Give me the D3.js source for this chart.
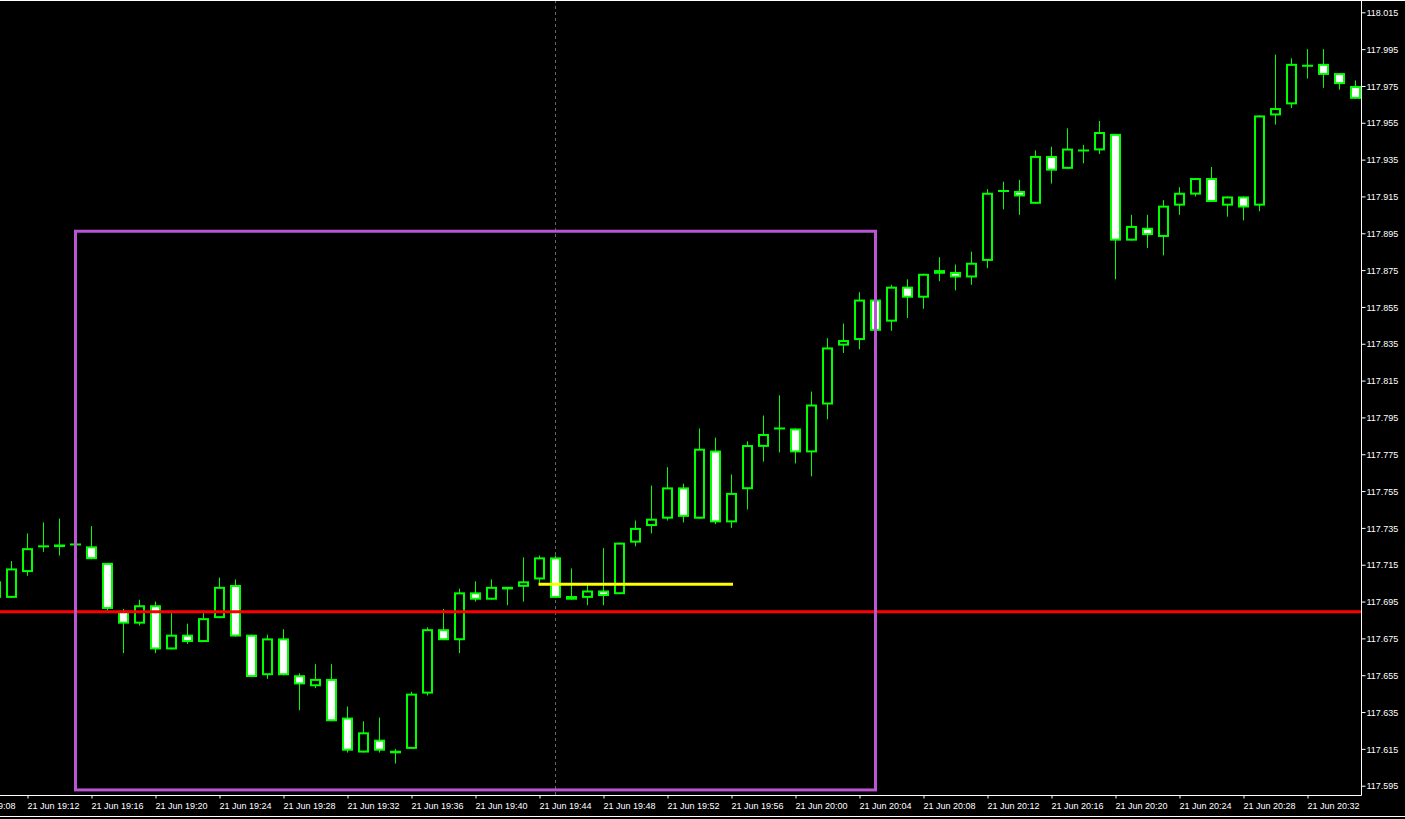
<!DOCTYPE html>
<html>
<head>
<meta charset="utf-8">
<script src="https://cdn.jsdelivr.net/npm/d3@7"></script>
<style>
html,body{margin:0;padding:0;background:#000;}
svg{display:block;}
</style>
</head>
<body>
<svg id="chart" width="1405" height="819"></svg>
<script>
// ---- DATA ----
const times = ["19:10","19:11","19:12","19:13","19:14","19:15","19:16","19:17","19:18","19:19",
"19:20","19:21","19:22","19:23","19:24","19:25","19:26","19:27","19:28","19:29",
"19:30","19:31","19:32","19:33","19:34","19:35","19:36","19:37","19:38","19:39",
"19:40","19:41","19:42","19:43","19:44","19:45","19:46","19:47","19:48","19:49",
"19:50","19:51","19:52","19:53","19:54","19:55","19:56","19:57","19:58","19:59",
"20:00","20:01","20:02","20:03","20:04","20:05","20:06","20:07","20:08","20:09",
"20:10","20:11","20:12","20:13","20:14","20:15","20:16","20:17","20:18","20:19",
"20:20","20:21","20:22","20:23","20:24","20:25","20:26","20:27","20:28","20:29",
"20:30","20:31","20:32","20:33","20:34","20:35"];
const open = [117.697,117.697,117.711,117.725,117.725,117.726,117.725,117.716,117.690,117.683,
117.693,117.669,117.677,117.673,117.686,117.704,117.677,117.655,117.675,117.655,
117.649,117.653,117.632,117.613,117.620,117.613,117.615,117.645,117.680,117.674,
117.700,117.696,117.703,117.703,117.707,117.719,117.698,117.697,117.701,117.699,
117.727,117.736,117.740,117.757,117.740,117.777,117.738,117.756,117.779,117.789,
117.789,117.776,117.802,117.834,117.837,117.859,117.847,117.866,117.860,117.873,
117.874,117.871,117.880,117.918,117.918,117.911,117.937,117.930,117.940,117.940,
117.949,117.891,117.898,117.893,117.910,117.916,117.925,117.910,117.915,117.910,
117.959,117.965,117.986,117.987,117.982,117.975];
const high = [117.710,117.717,117.732,117.738,117.740,117.727,117.736,117.716,117.691,117.696,
117.695,117.690,117.683,117.690,117.708,117.707,117.677,117.677,117.680,117.656,
117.661,117.661,117.638,117.630,117.632,117.615,117.646,117.681,117.691,117.702,
117.706,117.707,117.703,117.719,117.720,117.720,117.713,117.704,117.724,117.727,
117.739,117.758,117.768,117.759,117.789,117.784,117.764,117.782,117.796,117.807,
117.789,117.809,117.838,117.846,117.863,117.860,117.867,117.870,117.873,117.882,
117.878,117.885,117.919,117.923,117.924,117.940,117.942,117.952,117.943,117.956,
117.949,117.905,117.905,117.913,117.920,117.925,117.931,117.915,117.915,117.959,
117.992,117.990,117.995,117.995,117.982,117.978];
const low = [117.696,117.697,117.709,117.722,117.720,117.725,117.718,117.690,117.667,117.682,
117.667,117.669,117.672,117.673,117.686,117.676,117.654,117.653,117.655,117.636,
117.648,117.630,117.613,117.613,117.613,117.607,117.615,117.644,117.674,117.667,
117.695,117.696,117.693,117.695,117.705,117.697,117.696,117.693,117.693,117.699,
117.725,117.732,117.739,117.738,117.740,117.737,117.735,117.745,117.771,117.776,
117.770,117.763,117.794,117.830,117.832,117.842,117.842,117.849,117.854,117.869,
117.864,117.867,117.876,117.908,117.905,117.911,117.922,117.930,117.933,117.938,
117.870,117.891,117.887,117.883,117.905,117.915,117.912,117.904,117.902,117.907,
117.954,117.963,117.979,117.974,117.973,117.968];
const close = [117.706,117.713,117.724,117.725,117.726,117.726,117.718,117.691,117.683,117.693,
117.669,117.677,117.673,117.686,117.703,117.676,117.654,117.675,117.655,117.650,
117.653,117.630,117.614,117.624,117.614,117.614,117.645,117.680,117.674,117.700,
117.696,117.703,117.702,117.706,117.719,117.697,117.696,117.701,117.698,117.727,
117.735,117.740,117.757,117.741,117.778,117.738,117.754,117.780,117.786,117.789,
117.776,117.802,117.833,117.837,117.859,117.842,117.866,117.860,117.873,117.875,
117.871,117.879,117.917,117.918,117.915,117.937,117.929,117.941,117.940,117.950,
117.891,117.899,117.894,117.910,117.917,117.925,117.912,117.915,117.909,117.959,
117.963,117.987,117.986,117.981,117.976,117.968];

const priceTicks = [117.595,117.615,117.635,117.655,117.675,117.695,117.715,117.735,117.755,117.775,
117.795,117.815,117.835,117.855,117.875,117.895,117.915,117.935,117.955,117.975,117.995,118.015];
const timeTicks = ["19:08","19:12","19:16","19:20","19:24","19:28","19:32","19:36","19:40","19:44",
"19:48","19:52","19:56","20:00","20:04","20:08","20:12","20:16","20:20","20:24","20:28","20:32"];

const redLevel = 117.6894;
const yellowLevel = { price: 117.7044, from: "19:44", to: "19:56" };
const rectangle = { from: "19:15", to: "20:05", top: 117.8961, bottom: 117.5927 };
const vLine = "19:45";

// ---- HELPERS ----
const toDate = s => { const [h,m] = s.split(":").map(Number); return new Date(2021,5,21,h,m); };

const W = 1405, H = 819, plotRight = 1361.5, plotBottom = 795.5;

const x = d3.scaleTime().domain([toDate("19:12"), toDate("20:32")]).range([27.5, 1307.5]);
const y = d3.scaleLinear().domain([117.595, 118.015]).range([785.7, 12.3]);

const svg = d3.select("#chart");
svg.append("rect").attr("width", W).attr("height", H).attr("fill", "#000");

svg.append("defs").append("clipPath").attr("id","plotclip")
  .append("rect").attr("x",0).attr("y",1).attr("width",plotRight).attr("height",plotBottom-1);

const plot = svg.append("g").attr("clip-path","url(#plotclip)");

// vertical dashed line
plot.append("line")
  .attr("x1", x(toDate(vLine))).attr("x2", x(toDate(vLine)))
  .attr("y1", 0).attr("y2", plotBottom)
  .attr("stroke", "#666").attr("stroke-width", 1).attr("stroke-dasharray", "3,3");

const candles = times.map((t,i) => ({ t: toDate(t), o: open[i], h: high[i], l: low[i], c: close[i] }));

const cg = plot.append("g");
// wicks
cg.selectAll("line.wick").data(candles).join("line")
  .attr("class","wick")
  .attr("x1", d => x(d.t)).attr("x2", d => x(d.t))
  .attr("y1", d => y(d.h)).attr("y2", d => y(d.l))
  .attr("stroke", "#00ff00").attr("stroke-width", 1);

// bodies
const bodies = candles.filter(d => Math.abs(y(d.o) - y(d.c)) >= 1.5);
const dojis = candles.filter(d => Math.abs(y(d.o) - y(d.c)) < 1.5);

cg.selectAll("rect.body").data(bodies).join("rect")
  .attr("class","body")
  .attr("x", d => x(d.t) - 4.5)
  .attr("width", 9)
  .attr("y", d => Math.min(y(d.o), y(d.c)) + 1)
  .attr("height", d => Math.max(Math.abs(y(d.o) - y(d.c)) - 2, 0.6))
  .attr("fill", d => d.c >= d.o ? "#000" : "#fff")
  .attr("stroke", "#00ff00").attr("stroke-width", 2);

cg.selectAll("line.doji").data(dojis).join("line")
  .attr("class","doji")
  .attr("x1", d => x(d.t) - 5.5).attr("x2", d => x(d.t) + 5.5)
  .attr("y1", d => y(d.o)).attr("y2", d => y(d.o))
  .attr("stroke", "#00ff00").attr("stroke-width", 2);

// red level line
plot.append("line")
  .attr("x1", 0).attr("x2", plotRight)
  .attr("y1", y(redLevel)).attr("y2", y(redLevel))
  .attr("stroke", "#ff0000").attr("stroke-width", 3);

// purple rectangle
plot.append("rect")
  .attr("x", x(toDate(rectangle.from)))
  .attr("y", y(rectangle.top))
  .attr("width", x(toDate(rectangle.to)) - x(toDate(rectangle.from)))
  .attr("height", y(rectangle.bottom) - y(rectangle.top))
  .attr("fill", "none").attr("stroke", "#ba55d3").attr("stroke-width", 3);

// yellow line
plot.append("line")
  .attr("x1", x(toDate(yellowLevel.from)) - 1).attr("x2", x(toDate(yellowLevel.to)) + 1.5)
  .attr("y1", y(yellowLevel.price)).attr("y2", y(yellowLevel.price))
  .attr("stroke", "#ffff00").attr("stroke-width", 3);

// ---- FRAME ----
svg.append("line").attr("x1",0).attr("x2",W).attr("y1",0.5).attr("y2",0.5).attr("stroke","#fff");
svg.append("line").attr("x1",plotRight).attr("x2",plotRight).attr("y1",0).attr("y2",plotBottom).attr("stroke","#fff");
svg.append("line").attr("x1",0).attr("x2",plotRight).attr("y1",plotBottom).attr("y2",plotBottom).attr("stroke","#fff");
svg.append("line").attr("x1",0).attr("x2",W).attr("y1",816.5).attr("y2",816.5).attr("stroke","#fff");

// ---- AXES ----
const font = "'Liberation Sans', Arial, sans-serif";

const yAxis = d3.axisRight(y).tickValues(priceTicks).tickSize(4).tickPadding(1).tickFormat(d3.format(".3f"));
const ya = svg.append("g").attr("transform", `translate(${plotRight},0)`).call(yAxis);
ya.select(".domain").remove();
ya.selectAll(".tick line").attr("stroke", "#fff");
ya.selectAll(".tick text").attr("fill", "#fff").attr("x", 5).attr("dy", "0.35em")
  .style("font-family", font).style("font-size", "9px");

const xAxis = d3.axisBottom(x).tickValues(timeTicks.map(toDate)).tickSize(3).tickFormat(d3.timeFormat("%d %b %H:%M"));
const xa = svg.append("g").attr("transform", `translate(0,${plotBottom})`).call(xAxis);
xa.select(".domain").remove();
xa.selectAll(".tick line").attr("stroke", "#fff");
xa.selectAll(".tick text").attr("fill", "#fff").attr("text-anchor", "start")
  .attr("x", -0.5).attr("y", 13).attr("dy", 0)
  .style("font-family", font).style("font-size", "9px");
</script>
</body>
</html>
